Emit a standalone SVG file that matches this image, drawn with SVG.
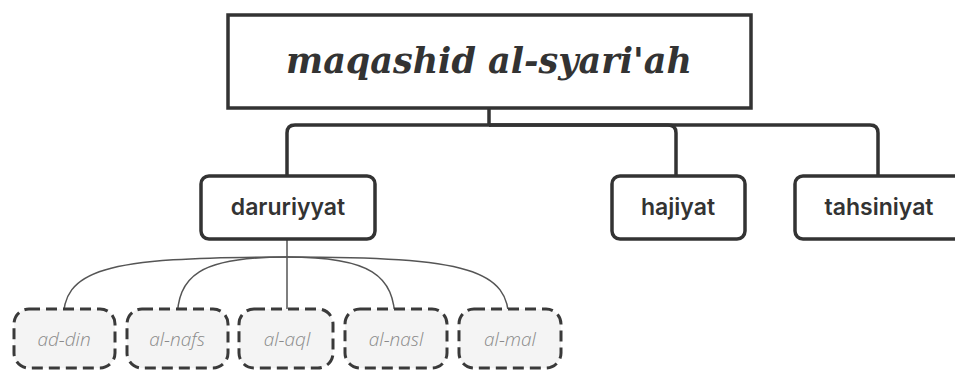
<svg xmlns="http://www.w3.org/2000/svg" width="955" height="371" viewBox="0 0 955 371">
<style>
.main{fill:#fff;stroke:#333;stroke-width:3.5}
.sub{fill:#fff;stroke:#333;stroke-width:3.5}
.leaf{fill:#f4f4f4;stroke:#3a3a3a;stroke-width:3;stroke-dasharray:11 6}
.thick{fill:none;stroke:#333;stroke-width:3.5}
.thin{fill:none;stroke:#555;stroke-width:1.5}
.title{font-family:"DejaVu Serif","Liberation Serif",serif;font-style:italic;font-weight:bold;font-size:35px;fill:#333;text-anchor:middle}
.lbl{font-family:"Inter","Open Sans",sans-serif;font-weight:600;font-size:23px;fill:#333;text-anchor:middle}
.leaft{font-family:"Open Sans","Lato",sans-serif;font-style:italic;font-weight:300;font-size:19px;fill:#8a8a8a;text-anchor:middle}
</style>
<rect width="955" height="371" fill="#fff"/>
<g id="connectors">
<path class="thick" d="M489,108 V125 H295 Q287,125 287,133 V175"/>
<path class="thick" d="M489,125 H668 Q676,125 676,133 V175"/>
<path class="thick" d="M489,125 H870 Q878,125 878,133 V175"/>
<path class="thin" d="M287,239 V322"/>
<path class="thin" d="M287,257 C100,257 63,270 63,322"/>
<path class="thin" d="M287,257 C200,257 177,275 177,322"/>
<path class="thin" d="M287,257 C370,257 395,275 395,322"/>
<path class="thin" d="M287,257 C470,257 509,270 509,322"/>
</g>
<g id="root">
<rect class="main" x="228" y="15" width="523" height="93"/>
<text class="title" x="489" y="73">maqashid al-syari'ah</text>
</g>
<g id="daruriyyat">
<rect class="sub" x="201" y="176" width="174" height="63" rx="8"/>
<text class="lbl" x="288" y="215">daruriyyat</text>
</g>
<g id="hajiyat">
<rect class="sub" x="612" y="176" width="133" height="63" rx="8"/>
<text class="lbl" x="678" y="215">hajiyat</text>
</g>
<g id="tahsiniyat">
<rect class="sub" x="795" y="176" width="170" height="63" rx="8"/>
<text class="lbl" x="879" y="215">tahsiniyat</text>
</g>
<g id="ad-din">
<rect class="leaf" x="14" y="309" width="101" height="59" rx="15"/>
<text class="leaft" x="64" y="346">ad-din</text>
</g>
<g id="al-nafs">
<rect class="leaf" x="127" y="309" width="101" height="59" rx="15"/>
<text class="leaft" x="177" y="346">al-nafs</text>
</g>
<g id="al-aql">
<rect class="leaf" x="239" y="309" width="94" height="59" rx="15"/>
<text class="leaft" x="287" y="346">al-aql</text>
</g>
<g id="al-nasl">
<rect class="leaf" x="345" y="309" width="102" height="59" rx="15"/>
<text class="leaft" x="396" y="346">al-nasl</text>
</g>
<g id="al-mal">
<rect class="leaf" x="459" y="309" width="102" height="59" rx="15"/>
<text class="leaft" x="510" y="346">al-mal</text>
</g>
</svg>
